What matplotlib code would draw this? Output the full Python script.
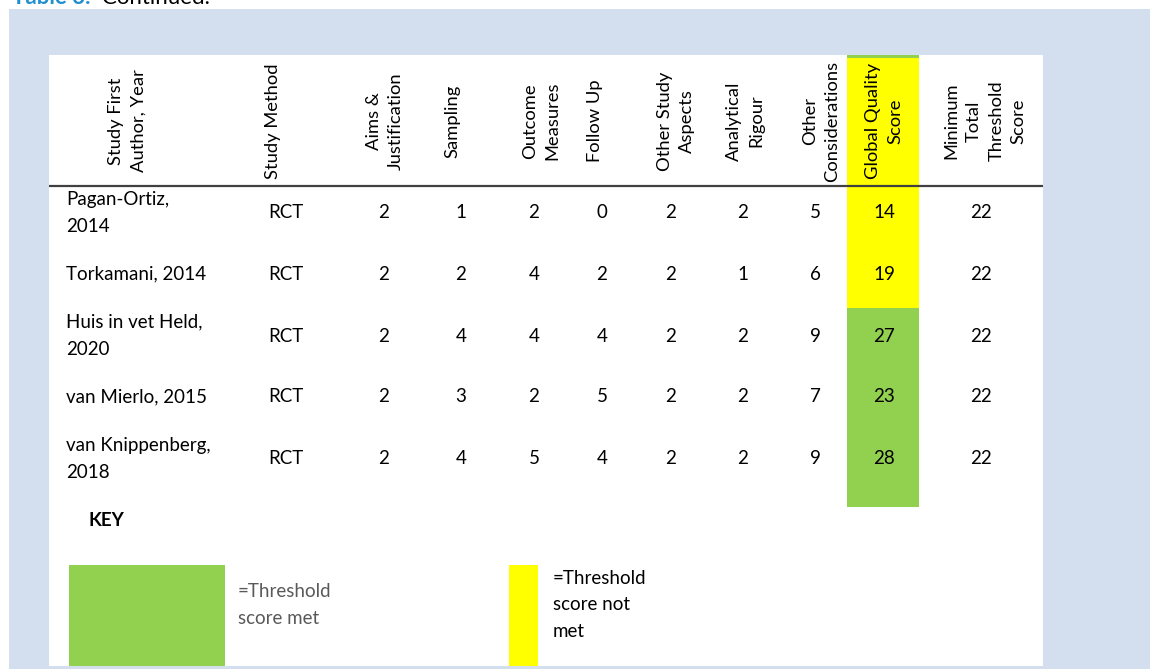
import matplotlib.pyplot as plt
from matplotlib.patches import Rectangle

plt.rcParams['font.family'] = ['Lato', 'DejaVu Sans']

# table data
headers = ["Study First\nAuthor, Year", "Study Method", "Aims &\nJustification", "Sampling",
           "Outcome\nMeasures", "Follow Up", "Other Study\nAspects", "Analytical\nRigour",
           "Other\nConsiderations", "Global Quality\nScore", "Minimum\nTotal\nThreshold\nScore"]
authors = ["Pagan-Ortiz,\n2014", "Torkamani, 2014", "Huis in vet Held,\n2020",
           "van Mierlo, 2015", "van Knippenberg,\n2018"]
method = ["RCT", "RCT", "RCT", "RCT", "RCT"]
aims = [2, 2, 2, 2, 2]
sampling = [1, 2, 4, 3, 4]
outcome = [2, 4, 4, 2, 5]
follow_up = [0, 2, 4, 5, 4]
other_aspects = [2, 2, 2, 2, 2]
analytical = [2, 1, 2, 2, 2]
other_cons = [5, 6, 9, 7, 9]
global_score = [14, 19, 27, 23, 28]
threshold = [22, 22, 22, 22, 22]

# layout (pixel coords)
head_x = [127, 273, 385, 452, 541, 595, 676, 745, 821, 884, 985]
data_x = [66, 286, 384, 461, 534, 602, 671, 743, 815, 884, 981]
row_y = [213, 274, 336, 397, 459]
GREEN = '#92D050'
YELLOW = '#FFFF00'
BLUE_BG = '#D3DFEE'

fig = plt.figure(figsize=(11.5, 6.69), dpi=100)
ax = fig.add_axes([0, 0, 1, 1])
ax.set_xlim(0, 1150)
ax.set_ylim(669, 0)
ax.axis('off')

# title strip (cut off at top, as in the source)
ax.text(12, 3.5, "Table 3.", fontsize=16, fontweight='bold', color='#1f8fd0', va='baseline', ha='left')
ax.text(102, 3.5, "Continued.", fontsize=16, color='black', va='baseline', ha='left')

ax.add_patch(Rectangle((9, 9), 1150 - 9, 669 - 9, color=BLUE_BG, lw=0))
ax.add_patch(Rectangle((49, 55), 1043 - 49, 666 - 55, color='white', lw=0))

# global score column shading
ax.add_patch(Rectangle((847, 55), 72, 2.5, color=GREEN, lw=0))
ax.add_patch(Rectangle((847, 57.5), 72, 308 - 57.5, color=YELLOW, lw=0))
ax.add_patch(Rectangle((847, 308), 72, 507 - 308, color=GREEN, lw=0))

# header
for h, x in zip(headers, head_x):
    ax.text(x, 121, h, rotation=90, ha='center', va='center', multialignment='center',
            fontsize=13.2, color='black', linespacing=1.5)
ax.plot([49, 1043], [186, 186], color='#404040', lw=1.6, solid_capstyle='butt')

# rows
cols = [method, aims, sampling, outcome, follow_up, other_aspects, analytical,
        other_cons, global_score, threshold]
for i, y in enumerate(row_y):
    ax.text(data_x[0], y, authors[i], ha='left', va='center', fontsize=13.5, linespacing=1.75)
    for col, x in zip(cols, data_x[1:]):
        ax.text(x, y, str(col[i]), ha='center', va='center', fontsize=13.5)

# key
ax.text(88, 520, "KEY", fontweight='bold', fontsize=13.5, ha='left', va='center')
ax.add_patch(Rectangle((69, 565), 225 - 69, 666 - 565, color=GREEN, lw=0))
ax.text(238, 605, "=Threshold\nscore met", fontsize=13.5, color='#595959', ha='left', va='center',
        linespacing=1.7)
ax.add_patch(Rectangle((509, 565), 29, 666 - 565, color=YELLOW, lw=0))
ax.text(553, 605, "=Threshold\nscore not\nmet", fontsize=13.5, color='black', ha='left', va='center',
        linespacing=1.7)

fig.savefig("out.png", dpi=100, facecolor='white')
